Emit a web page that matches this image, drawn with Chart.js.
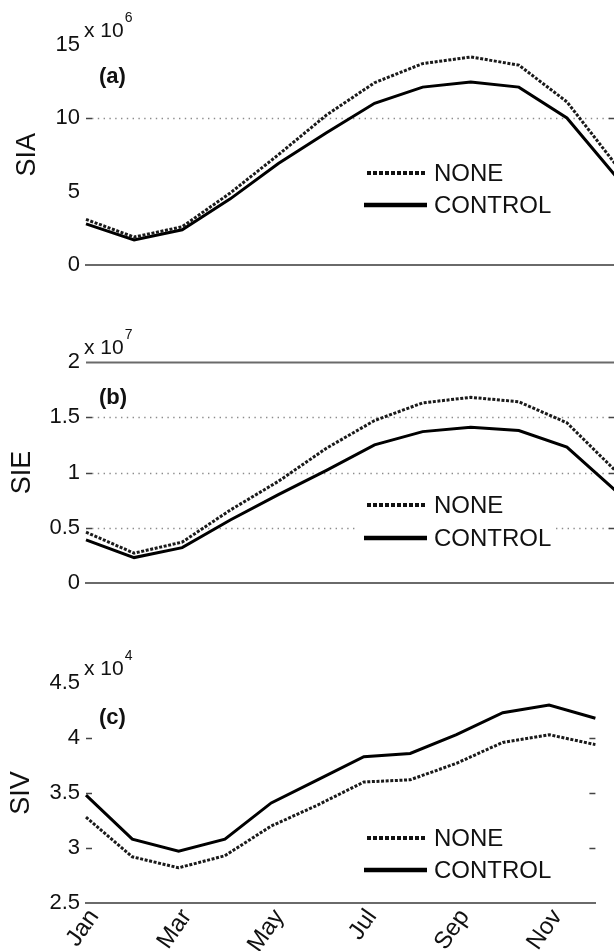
<!DOCTYPE html>
<html><head><meta charset="utf-8">
<script src="https://cdn.jsdelivr.net/npm/chart.js@4.4.0/dist/chart.umd.min.js"></script>
<style>
html,body{margin:0;padding:0;background:#fff;width:614px;height:951px;overflow:hidden;position:relative}
canvas{position:absolute;left:0}
</style></head><body>
<canvas id="ca" width="620" height="300" style="top:0px"></canvas>
<canvas id="cb" width="620" height="320" style="top:300px"></canvas>
<canvas id="cc" width="620" height="331" style="top:620px"></canvas>
<script>
// ---------- DATA ----------
const months = ['Jan','Feb','Mar','Apr','May','Jun','Jul','Aug','Sep','Oct','Nov','Dec'];
const shownMonths = ['Jan','Mar','May','Jul','Sep','Nov'];
const seriesNames = ['NONE','CONTROL'];
// (a) SIA, units of 10^6
const siaNone    = [3.1, 1.9, 2.6, 4.9, 7.5, 10.2, 12.4, 13.7, 14.15, 13.6, 11.1, 6.9];
const siaControl = [2.8, 1.7, 2.4, 4.5, 6.9, 9.0, 11.0, 12.1, 12.45, 12.1, 10.0, 6.1];
const siaTicks   = [0, 5, 10, 15];
// (b) SIE, units of 10^7
const sieNone    = [0.46, 0.27, 0.37, 0.66, 0.92, 1.22, 1.47, 1.63, 1.68, 1.64, 1.45, 1.02];
const sieControl = [0.39, 0.23, 0.32, 0.57, 0.80, 1.02, 1.25, 1.37, 1.41, 1.38, 1.23, 0.84];
const sieTicks   = [0, 0.5, 1, 1.5, 2];
// (c) SIV, units of 10^4
const sivNone    = [3.28, 2.92, 2.82, 2.93, 3.20, 3.39, 3.60, 3.62, 3.77, 3.96, 4.03, 3.94];
const sivControl = [3.48, 3.08, 2.97, 3.08, 3.41, 3.62, 3.83, 3.86, 4.03, 4.23, 4.30, 4.18];
const sivTicks   = [2.5, 3, 3.5, 4, 4.5];
const panelTitles = ['SIA', 'SIE', 'SIV'];
const panelTags = ['(a)', '(b)', '(c)'];
const exponents = ['6', '7', '4'];
// ---------------------------

const FONT = "'Liberation Sans', Arial, Helvetica, sans-serif";
Chart.defaults.font.family = FONT;

const decor = {
  id: 'panelDecor',
  beforeDatasetsDraw(chart, args, o) {
    const {ctx, chartArea: a, scales: {y}} = chart;
    ctx.save();
    const py = v => Math.round(y.getPixelForValue(v)) + 0.5;
    // dotted grid
    ctx.strokeStyle = '#8c8c8c'; ctx.lineWidth = 1.3; ctx.setLineDash([1.4, 4.4]);
    o.dotted.forEach(v => { const p = py(v); ctx.beginPath(); ctx.moveTo(a.left + 6, p); ctx.lineTo(a.right, p); ctx.stroke(); });
    ctx.setLineDash([]);
    // solid lines (box top)
    ctx.strokeStyle = '#6a6a6a'; ctx.lineWidth = 2;
    o.solid.forEach(v => { const p = py(v); ctx.beginPath(); ctx.moveTo(a.left, p); ctx.lineTo(a.right, p); ctx.stroke(); });
    // inward ticks
    ctx.strokeStyle = '#444'; ctx.lineWidth = 1.5;
    o.marks.forEach(v => { const p = py(v); ctx.beginPath();
      ctx.moveTo(a.left, p); ctx.lineTo(a.left + 6, p);
      ctx.moveTo(a.right, p); ctx.lineTo(a.right - 6, p); ctx.stroke(); });
    // legend
    const yN = a.bottom + o.legNone, yC = a.bottom + o.legCtrl;
    ctx.fillStyle = '#fff';
    ctx.fillRect(355, yN - 16, 200, yC - yN + 32);
    ctx.strokeStyle = '#111'; ctx.lineWidth = 4; ctx.setLineDash([4, 2]);
    ctx.beginPath(); ctx.moveTo(367, yN); ctx.lineTo(425, yN); ctx.stroke();
    ctx.setLineDash([]); ctx.lineWidth = 4.5; ctx.strokeStyle = '#000';
    ctx.beginPath(); ctx.moveTo(364, yC); ctx.lineTo(427, yC); ctx.stroke();
    ctx.fillStyle = '#111'; ctx.font = '24px ' + FONT; ctx.textBaseline = 'middle'; ctx.textAlign = 'left';
    ctx.fillText(chart.data.datasets[0].label, 434, yN + 1);
    ctx.fillText(chart.data.datasets[1].label, 434, yC + 1);
    // multiplier
    ctx.textBaseline = 'alphabetic';
    ctx.font = '21px ' + FONT;
    const base = a.top - 8;
    ctx.fillText('x 10', 84, base);
    const w = ctx.measureText('x 10').width;
    ctx.font = '14px ' + FONT;
    ctx.fillText(o.exp, 84 + w + 1, base - 15);
    // tag
    ctx.font = 'bold 22px ' + FONT; ctx.textBaseline = 'middle';
    ctx.fillText(o.tag, 99, a.top + o.tagOff);
    ctx.restore();
  }
};

function panel(id, cfg) {
  return new Chart(document.getElementById(id), {
    type: 'line',
    data: {
      labels: months,
      datasets: [
        {label: seriesNames[0], data: cfg.none, borderColor: '#1a1a1a', borderWidth: 3, borderDash: [3, 1.6],
         pointRadius: 0, tension: 0, fill: false},
        {label: seriesNames[1], data: cfg.control, borderColor: '#000', borderWidth: 3,
         pointRadius: 0, tension: 0, fill: false}
      ]
    },
    options: {
      responsive: false, animation: false, devicePixelRatio: 1,
      layout: {padding: {top: cfg.padTop, right: 5, left: 0, bottom: 0}},
      plugins: {
        legend: {display: false}, tooltip: {enabled: false},
        panelDecor: {dotted: cfg.dotted, solid: cfg.solid, marks: cfg.marks, legNone: cfg.legNone, legCtrl: cfg.legCtrl,
                     exp: cfg.exp, tag: cfg.tag, tagOff: cfg.tagOff}
      },
      scales: {
        x: {
          type: 'category', offset: false,
          grid: {display: false, drawTicks: false},
          border: {display: true, color: '#6a6a6a', width: 2},
          ticks: {display: cfg.showX, autoSkip: false, minRotation: 55, maxRotation: 55, padding: 1, labelOffset: 8,
                  font: {size: 24}, color: '#111',
                  callback: (v, i) => shownMonths.includes(months[i]) ? months[i] : ''},
          afterFit: s => { s.height = cfg.xHeight; }
        },
        y: {
          min: cfg.ticks[0], max: cfg.ticks[cfg.ticks.length - 1],
          afterBuildTicks: s => { s.ticks = cfg.ticks.map(v => ({value: v})); },
          grid: {display: false, drawTicks: false},
          border: {display: false},
          ticks: {padding: 6, font: {size: 22}, color: '#111', callback: v => String(Number(v))},
          title: {display: true, text: cfg.title, font: {size: 27}, color: '#111', padding: {top: cfg.titlePad, bottom: 0}},
          afterFit: s => { s.width = 86; }
        }
      }
    },
    plugins: [decor]
  });
}

panel('ca', {none: siaNone, control: siaControl, ticks: siaTicks, title: panelTitles[0], tag: panelTags[0], exp: exponents[0],
  padTop: 44.5, xHeight: 35, showX: false, titlePad: 11,
  dotted: [10], solid: [], marks: [10], legNone: -92, legCtrl: -60, tagOff: 32});
panel('cb', {none: sieNone, control: sieControl, ticks: sieTicks, title: panelTitles[1], tag: panelTags[1], exp: exponents[1],
  padTop: 62, xHeight: 37, showX: false, titlePad: 6,
  dotted: [0.5, 1, 1.5], solid: [2], marks: [0.5, 1, 1.5], legNone: -78, legCtrl: -45, tagOff: 36});
panel('cc', {none: sivNone, control: sivControl, ticks: sivTicks, title: panelTitles[2], tag: panelTags[2], exp: exponents[2],
  padTop: 63, xHeight: 48, showX: true, titlePad: 5,
  dotted: [], solid: [], marks: [3, 3.5, 4], legNone: -65, legCtrl: -33, tagOff: 35});
</script>
</body></html>
